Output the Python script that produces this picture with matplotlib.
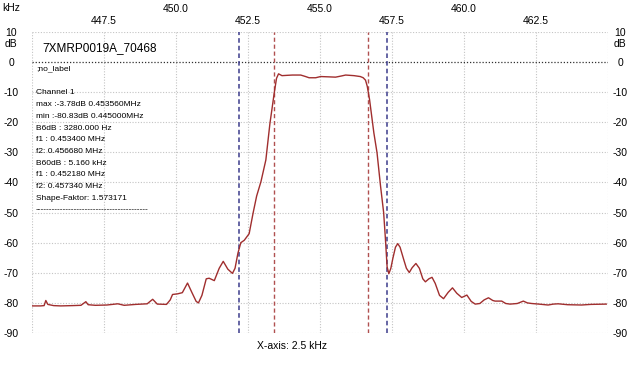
import matplotlib
matplotlib.use("Agg")
import matplotlib.pyplot as plt
import matplotlib.transforms as mtrans

# measured response (kHz, dB)
freq_khz = [445.00, 445.30, 445.42, 445.48, 445.55, 445.75, 446.00, 446.40, 446.70, 446.87,
            446.95, 447.20, 447.60, 447.98, 448.20, 448.60, 449.00, 449.19, 449.35, 449.67,
            449.80, 449.88, 450.05, 450.22, 450.40, 450.55, 450.70, 450.78, 450.90, 451.05,
            451.15, 451.33, 451.50, 451.64, 451.80, 451.96, 452.05, 452.15, 452.25, 452.37,
            452.54, 452.68, 452.80, 452.95, 453.12, 453.26, 453.41, 453.49, 453.56, 453.68,
            453.85, 454.04, 454.33, 454.50, 454.62, 454.85, 455.02, 455.30, 455.54, 455.75,
            455.89, 456.18, 456.40, 456.50, 456.58, 456.64, 456.72, 456.87, 456.98, 457.10,
            457.21, 457.27, 457.33, 457.39, 457.46, 457.53, 457.62, 457.70, 457.78, 457.91,
            458.00, 458.10, 458.20, 458.33, 458.45, 458.57, 458.66, 458.78, 458.89, 459.00,
            459.15, 459.29, 459.45, 459.60, 459.75, 459.92, 460.10, 460.25, 460.39, 460.55,
            460.70, 460.85, 461.00, 461.08, 461.31, 461.45, 461.60, 461.85, 462.06, 462.20,
            462.35, 462.60, 462.92, 463.10, 463.27, 463.60, 464.08, 464.40, 464.94]
level_db = [-81.0, -81.0, -80.9, -79.2, -80.5, -80.9, -81.0, -80.9, -80.8, -79.6,
            -80.6, -80.8, -80.7, -80.3, -80.8, -80.5, -80.3, -78.8, -80.4, -80.5,
            -79.0, -77.2, -77.0, -76.6, -73.4, -76.5, -79.5, -80.0, -77.5, -72.0,
            -71.8, -72.6, -68.5, -66.2, -68.8, -70.2, -68.5, -63.5, -60.0, -59.2,
            -57.0, -50.0, -44.5, -39.7, -32.5, -20.5, -10.3, -5.4, -3.9, -4.5,
            -4.4, -4.3, -4.3, -4.8, -5.2, -5.2, -4.8, -4.9, -5.0, -4.6,
            -4.3, -4.5, -4.8, -5.2, -6.0, -8.0, -12.4, -23.5, -30.1, -41.0,
            -50.0, -58.5, -68.0, -70.3, -68.5, -65.2, -61.5, -60.3, -61.5, -65.7,
            -68.5, -69.9, -68.3, -66.9, -68.5, -72.0, -73.0, -72.0, -71.5, -73.5,
            -77.5, -78.6, -76.5, -75.0, -76.8, -78.2, -77.4, -79.5, -80.4, -80.2,
            -79.0, -78.3, -79.2, -79.4, -79.4, -80.2, -80.4, -80.2, -79.4, -80.0,
            -80.2, -80.4, -80.7, -80.4, -80.3, -80.6, -80.7, -80.5, -80.4]

b6_markers = [453.40, 456.68]
b60_markers = [452.18, 457.34]

top_major = [450.0, 455.0, 460.0]
top_minor = [447.5, 452.5, 457.5, 462.5]
db_ticks = list(range(-90, 11, 10))

title = "7XMRP0019A_70468"
info_lines = ["Channel 1",
              "max :-3.78dB 0.453560MHz",
              "min :-80.83dB 0.445000MHz",
              "B6dB : 3280.000 Hz",
              "f1 : 0.453400 MHz",
              "f2: 0.456680 MHz",
              "B60dB : 5.160 kHz",
              "f1 : 0.452180 MHz",
              "f2: 0.457340 MHz",
              "Shape-Faktor: 1.573171",
              "-" * 41]

narrow = ["Liberation Sans Narrow", "Liberation Sans", "DejaVu Sans"]
plain = ["Liberation Sans", "DejaVu Sans"]

fig = plt.figure(figsize=(6.4, 3.65), dpi=100)
ax = fig.add_axes([32 / 640, 1 - 333 / 365, 576 / 640, 301 / 365])
ax.set_xlim(445, 465)
ax.set_ylim(-90, 10)
for s in ax.spines.values():
    s.set_visible(False)

# grid
grid_kw = dict(color="#c4c4c4", lw=0.8, ls=(0, (1, 1.5)), zorder=0)
for x in [445.0] + top_minor + top_major + [465.0]:
    ax.axvline(x, **grid_kw)
for y in db_ticks:
    if y == 0:
        ax.axhline(y, color="#303030", lw=0.9, ls=(0, (1, 1.5)), zorder=1)
    else:
        ax.axhline(y, **grid_kw)

for x in b60_markers:
    ax.axvline(x, color="#3c3c8c", lw=1.1, ls=(0, (3, 2)), zorder=2)
for x in b6_markers:
    ax.axvline(x, color="#b05050", lw=1.0, ls=(0, (3, 2)), zorder=2)

ax.plot(freq_khz, level_db, color="#a02e2e", lw=1.0, zorder=3)

# top kHz labels in two rows
ax.xaxis.tick_top()
ax.set_xticks(top_major)
ax.set_xticklabels([f"{v:.1f}" for v in top_major], family=narrow, fontsize=7.5)
ax.set_xticks(top_minor, minor=True)
ax.set_xticklabels([f"{v:.1f}" for v in top_minor], minor=True, family=narrow, fontsize=7.5)
ax.tick_params(axis="x", which="major", length=0, pad=13)
ax.tick_params(axis="x", which="minor", length=0, pad=4.6)

# dB labels on both sides, centred
ax.set_yticks(db_ticks)
ax.set_yticklabels([str(v) for v in db_ticks], family=narrow, fontsize=7.5)
ax.tick_params(axis="y", length=0, labelleft=True, labelright=True, pad=15)
right_shift = mtrans.ScaledTranslation(12 / 100, 0, fig.dpi_scale_trans)
for t in ax.yaxis.get_major_ticks():
    t.label1.set_horizontalalignment("center")
    t.label2.set_horizontalalignment("center")
    t.label2.set_fontfamily(narrow)
    t.label2.set_fontsize(7.5)
    t.label2.set_transform(ax.get_yaxis_transform(which="tick2") + right_shift)

yax = ax.get_yaxis_transform()
ax.text(-0.0365, 6.0, "dB", transform=yax, ha="center", va="center", family=narrow, fontsize=7.5)
ax.text(1.0205, 6.0, "dB", transform=yax, ha="center", va="center", family=narrow, fontsize=7.5)
ax.text(-0.0365, 1.0797, "kHz", transform=ax.transAxes, ha="center", va="center",
        family=narrow, fontsize=7.5)

ax.text(0.0174, 0.947, title, transform=ax.transAxes, ha="left", va="center",
        family=plain, fontsize=8.5)
ax.text(0.0069, 0.877, ";no_label", transform=ax.transAxes, ha="left", va="center",
        family=plain, fontsize=6)
for i, line in enumerate(info_lines):
    ypx = 93 + 11.7 * i
    ax.text(0.0069, (333 - ypx) / 301, line, transform=ax.transAxes, ha="left",
            va="center", family=plain, fontsize=6)

ax.text(0.451, -0.043, "X-axis: 2.5 kHz", transform=ax.transAxes, ha="center",
        va="center", family=plain, fontsize=7.5)

fig.savefig("out.png", dpi=100)
